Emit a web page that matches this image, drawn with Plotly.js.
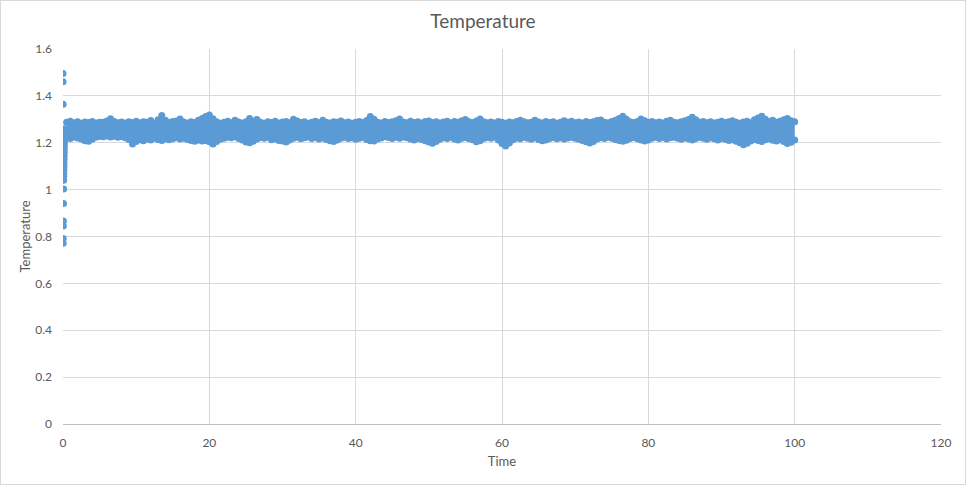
<!DOCTYPE html>
<html>
<head>
<meta charset="utf-8">
<script src="https://cdn.plot.ly/plotly-3.0.1.min.js"></script>
<style>
html,body{margin:0;padding:0;background:#fff;}
#wrap{position:relative;width:966px;height:485px;}
#chart{width:966px;height:485px;}
#frame{position:absolute;left:0;top:0;width:966px;height:485px;box-sizing:border-box;border:1px solid #d9d9d9;pointer-events:none;}
</style>
</head>
<body>
<div id="wrap"><div id="chart"></div><div id="frame"></div></div>
<script>
// Start-up transient (time, temperature)
const startTime = [0, 0.01, 0.02, 0.03, 0.04, 0.05, 0.06, 0.07, 0.08, 0.09, 0.1, 0.11, 0.12, 0.13, 0.14, 0.15, 0.16, 0.17, 0.18, 0.19, 0.2, 0.22, 0.24, 0.26];
const startTemp = [1.496, 1.46, 1.364, 0.771, 0.792, 0.845, 0.866, 0.941, 1.003, 1.04, 1.055, 1.07, 1.085, 1.1, 1.115, 1.13, 1.145, 1.16, 1.175, 1.19, 1.205, 1.22, 1.24, 1.26];

// Sampled time for the steady band
const time = [
0.5,1,1.5,2,2.5,3,3.5,4,4.5,5,
5.5,6,6.5,7,7.5,8,8.5,9,9.5,10,
10.5,11,11.5,12,12.5,13,13.5,14,14.5,15,
15.5,16,16.5,17,17.5,18,18.5,19,19.5,20,
20.5,21,21.5,22,22.5,23,23.5,24,24.5,25,
25.5,26,26.5,27,27.5,28,28.5,29,29.5,30,
30.5,31,31.5,32,32.5,33,33.5,34,34.5,35,
35.5,36,36.5,37,37.5,38,38.5,39,39.5,40,
40.5,41,41.5,42,42.5,43,43.5,44,44.5,45,
45.5,46,46.5,47,47.5,48,48.5,49,49.5,50,
50.5,51,51.5,52,52.5,53,53.5,54,54.5,55,
55.5,56,56.5,57,57.5,58,58.5,59,59.5,60,
60.5,61,61.5,62,62.5,63,63.5,64,64.5,65,
65.5,66,66.5,67,67.5,68,68.5,69,69.5,70,
70.5,71,71.5,72,72.5,73,73.5,74,74.5,75,
75.5,76,76.5,77,77.5,78,78.5,79,79.5,80,
80.5,81,81.5,82,82.5,83,83.5,84,84.5,85,
85.5,86,86.5,87,87.5,88,88.5,89,89.5,90,
90.5,91,91.5,92,92.5,93,93.5,94,94.5,95,
95.5,96,96.5,97,97.5,98,98.5,99,99.5,100];

// Upper edge of the fluctuating temperature band
const tempUpper = [
1.288,1.292,1.285,1.29,1.283,1.289,1.286,1.291,1.284,1.288,
1.287,1.293,1.302,1.291,1.285,1.289,1.284,1.29,1.286,1.292,
1.285,1.29,1.288,1.295,1.283,1.298,1.316,1.296,1.286,1.291,
1.293,1.301,1.289,1.284,1.29,1.286,1.296,1.303,1.312,1.318,
1.302,1.29,1.283,1.288,1.292,1.285,1.296,1.289,1.284,1.29,
1.303,1.292,1.299,1.287,1.283,1.29,1.286,1.292,1.284,1.289,
1.291,1.285,1.3,1.293,1.286,1.29,1.283,1.288,1.292,1.285,
1.296,1.288,1.284,1.29,1.287,1.293,1.285,1.289,1.283,1.288,
1.291,1.286,1.295,1.312,1.3,1.288,1.284,1.291,1.286,1.29,
1.294,1.301,1.289,1.285,1.292,1.286,1.29,1.284,1.291,1.293,
1.286,1.29,1.284,1.289,1.292,1.285,1.291,1.288,1.294,1.299,
1.29,1.286,1.293,1.301,1.29,1.285,1.289,1.284,1.291,1.287,
1.283,1.289,1.285,1.291,1.296,1.29,1.285,1.288,1.296,1.289,
1.284,1.291,1.286,1.29,1.283,1.288,1.294,1.287,1.292,1.285,
1.289,1.284,1.291,1.286,1.29,1.295,1.297,1.288,1.285,1.291,
1.296,1.304,1.313,1.3,1.29,1.286,1.291,1.301,1.294,1.287,
1.291,1.285,1.289,1.284,1.292,1.296,1.288,1.285,1.29,1.294,
1.299,1.309,1.298,1.287,1.291,1.285,1.29,1.284,1.288,1.292,
1.286,1.29,1.294,1.287,1.283,1.289,1.292,1.285,1.298,1.306,
1.313,1.3,1.291,1.296,1.287,1.292,1.298,1.303,1.294,1.29];

// Lower edge of the fluctuating temperature band
const tempLower = [
1.222,1.218,1.225,1.22,1.216,1.209,1.206,1.215,1.224,1.227,
1.226,1.229,1.225,1.228,1.224,1.227,1.221,1.214,1.195,1.205,
1.213,1.209,1.216,1.212,1.219,1.214,1.21,1.218,1.213,1.217,
1.222,1.216,1.219,1.214,1.21,1.206,1.212,1.208,1.21,1.204,
1.195,1.205,1.215,1.219,1.224,1.221,1.226,1.218,1.212,1.203,
1.2,1.206,1.216,1.222,1.219,1.224,1.213,1.217,1.21,1.208,
1.203,1.212,1.219,1.223,1.217,1.221,1.225,1.218,1.222,1.216,
1.22,1.214,1.209,1.205,1.212,1.219,1.223,1.218,1.221,1.215,
1.219,1.224,1.214,1.209,1.207,1.216,1.22,1.226,1.222,1.218,
1.223,1.219,1.225,1.221,1.216,1.212,1.218,1.214,1.209,1.203,
1.198,1.205,1.215,1.221,1.218,1.223,1.216,1.212,1.219,1.222,
1.217,1.213,1.204,1.209,1.218,1.222,1.219,1.224,1.212,1.197,
1.186,1.199,1.213,1.22,1.217,1.223,1.219,1.215,1.221,1.214,
1.209,1.212,1.218,1.222,1.217,1.221,1.216,1.22,1.224,1.219,
1.215,1.21,1.204,1.199,1.205,1.216,1.221,1.218,1.223,1.219,
1.214,1.21,1.206,1.211,1.218,1.222,1.217,1.212,1.208,1.212,
1.219,1.223,1.218,1.222,1.216,1.221,1.224,1.219,1.215,1.22,
1.217,1.212,1.218,1.223,1.219,1.215,1.221,1.217,1.212,1.218,
1.215,1.21,1.213,1.206,1.2,1.192,1.198,1.208,1.214,1.21,
1.205,1.213,1.217,1.211,1.207,1.213,1.205,1.197,1.202,1.212];

const xTickVals = [0, 20, 40, 60, 80, 100, 120];
const yTickVals = [0, 0.2, 0.4, 0.6, 0.8, 1, 1.2, 1.4, 1.6];

const BLUE = '#5B9BD5';
const TXT = '#595959';
const FONT = 'Lato, "Open Sans", sans-serif';

const traces = [
  {x: time, y: tempLower, type: 'scatter', mode: 'lines+markers',
   line: {width: 0.5, color: BLUE},
   marker: {color: BLUE, size: 7}, hoverinfo: 'x+y', showlegend: false},
  {x: time, y: tempUpper, type: 'scatter', mode: 'lines+markers',
   line: {width: 0.5, color: BLUE}, fill: 'tonexty', fillcolor: BLUE,
   marker: {color: BLUE, size: 7}, hoverinfo: 'x+y', showlegend: false},
  {x: startTime, y: startTemp, type: 'scatter', mode: 'markers',
   marker: {color: BLUE, size: 7}, hoverinfo: 'x+y', showlegend: false}
];

const layout = {
  width: 966, height: 485,
  margin: {l: 63, r: 25, t: 49, b: 61},
  paper_bgcolor: '#fff', plot_bgcolor: '#fff',
  font: {family: FONT, color: TXT, size: 12},
  title: {text: 'Temperature', font: {family: FONT, size: 19, color: TXT},
          x: 0.5, xanchor: 'center', y: 0.955, yref: 'container', yanchor: 'middle'},
  xaxis: {range: [0, 120], tickvals: xTickVals, showgrid: true, gridcolor: '#d9d9d9',
          zeroline: false, showline: true, linecolor: '#bfbfbf', linewidth: 1,
          ticks: '', ticklabelstandoff: 8, tickfont: {size: 12, color: TXT},
          title: {text: 'Time', font: {size: 13, color: TXT}, standoff: 7}},
  yaxis: {range: [0, 1.6], tickvals: yTickVals, showgrid: true, gridcolor: '#d9d9d9',
          zeroline: false, showline: false, ticks: '', ticklabelstandoff: 10,
          tickfont: {size: 12, color: TXT},
          title: {text: 'Temperature', font: {size: 13, color: TXT}, standoff: 1}}
};

Plotly.newPlot('chart', traces, layout, {displayModeBar: false, staticPlot: true});
</script>
</body>
</html>
